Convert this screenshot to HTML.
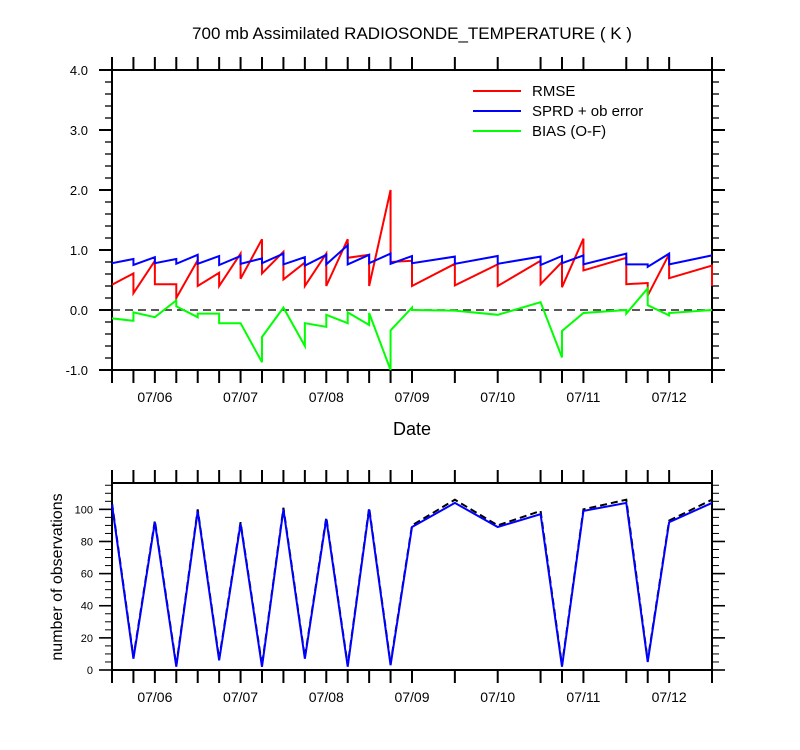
<!DOCTYPE html>
<html><head><meta charset="utf-8"><style>
body{margin:0;background:#fff;}
svg{display:block;font-family:"Liberation Sans",sans-serif;}
</style></head><body>
<svg id="chart" width="800" height="750" viewBox="0 0 800 750">
<text x="412" y="39" text-anchor="middle" font-size="17">700 mb Assimilated RADIOSONDE_TEMPERATURE ( K )</text>
<g id="topPanel"></g>
<g id="botPanel"></g>
<text x="412" y="435" text-anchor="middle" font-size="18">Date</text>
<text transform="translate(62,577) rotate(-90)" text-anchor="middle" font-size="16">number of observations</text>
<g>
<line x1="473" y1="91" x2="521" y2="91" stroke="#f00" stroke-width="2"/>
<text x="532" y="96" font-size="15">RMSE</text>
<line x1="473" y1="111" x2="521" y2="111" stroke="#00f" stroke-width="2"/>
<text x="532" y="116" font-size="15">SPRD + ob error</text>
<line x1="473" y1="131" x2="521" y2="131" stroke="#0f0" stroke-width="2"/>
<text x="532" y="136" font-size="15">BIAS (O-F)</text>
</g>
</svg>
<script>
const dateLabels=["07/06","07/07","07/08","07/09","07/10","07/11","07/12"];
const dateTickIdx=[2,6,10,14,18,22,26];
const obsTimes=[0,1,2,3,4,5,6,7,8,9,10,11,12,13,14,16,18,20,21,22,24,25,26,28];
const topYTicks=[4.0,3.0,2.0,1.0,0.0,-1.0];
const topYLabels=["4.0","3.0","2.0","1.0","0.0","-1.0"];
const rmseT=[0,1,1,2,2,3,3,4,4,5,5,6,6,7,7,8,8,9,9,10,10,11,11,12,12,13,13,14,14,16,16,18,18,20,20,21,21,22,22,24,24,25,25,26,26,28,28];
const rmseV=[0.42,0.61,0.28,0.82,0.43,0.43,0.2,0.83,0.4,0.62,0.4,0.94,0.52,1.18,0.61,0.97,0.51,0.79,0.4,0.94,0.4,1.18,0.87,0.92,0.4,2.0,0.8,0.82,0.4,0.77,0.41,0.76,0.4,0.82,0.43,0.8,0.38,1.19,0.66,0.87,0.43,0.45,0.24,0.93,0.53,0.74,0.4];
const sprdT=[0,1,1,2,2,3,3,4,4,5,5,6,6,7,7,8,8,9,9,10,10,11,11,12,12,13,13,14,14,16,16,18,18,20,20,21,21,22,22,24,24,25,25,26,26,28];
const sprdV=[0.78,0.85,0.75,0.88,0.78,0.85,0.77,0.92,0.77,0.9,0.75,0.9,0.77,0.86,0.78,0.94,0.76,0.88,0.74,0.92,0.76,1.08,0.76,0.92,0.78,0.94,0.77,0.9,0.78,0.89,0.77,0.9,0.77,0.89,0.75,0.9,0.78,0.91,0.76,0.94,0.76,0.76,0.72,0.94,0.76,0.91];
const biasT=[0,1,1,2,3,3,4,4,5,5,6,7,7,8,9,9,10,10,11,11,12,12,13,13,14,14,16,18,20,21,21,22,24,24,25,25,26,26,28];
const biasV=[-0.14,-0.18,-0.04,-0.12,0.16,0.06,-0.12,-0.06,-0.06,-0.22,-0.22,-0.87,-0.45,0.04,-0.6,-0.22,-0.28,-0.08,-0.22,-0.04,-0.25,-0.05,-1.0,-0.34,0.04,0.0,-0.01,-0.08,0.13,-0.79,-0.35,-0.05,0.0,-0.06,0.36,0.08,-0.09,-0.05,0.0];
const botYTicks=[0,20,40,60,80,100];
const obsUsed=[103,7,92,2,99,6,91,2,100,7,94,2,100,3,89,104,89,97,2,99,104,5,92,104];
const obsTotal=[104,8,93,3,100,7,92,3,101,8,95,3,101,4,90,106,90,99,3,100,106,6,93,106];

const NS="http://www.w3.org/2000/svg";
const X0=112,X1=712,N=28;
function xs(i){return X0+i*(X1-X0)/N;}
const T0=70,T1=370,TMIN=-1,TMAX=4;
function yt(v){return T1-(v-TMIN)/(TMAX-TMIN)*(T1-T0);}
const B0=483,B1=670,BMAX=116.4;
function yb(v){return B1-v/BMAX*(B1-B0);}
function mk(tag,attrs,parent){const e=document.createElementNS(NS,tag);for(const k in attrs)e.setAttribute(k,attrs[k]);parent.appendChild(e);return e;}
const topG=document.getElementById('topPanel'),botG=document.getElementById('botPanel');

function frame(g,y0,y1){
  const r=mk('rect',{x:X0,y:y0,width:X1-X0,height:y1-y0,fill:'none',stroke:'#000','stroke-width':2},g);
  
  
  obsTimes.forEach(i=>{
    const a=mk('line',{x1:xs(i),x2:xs(i),y1:y0,y2:y0-13,stroke:'#000','stroke-width':2},g);
    
    
    const b=mk('line',{x1:xs(i),x2:xs(i),y1:y1,y2:y1+13,stroke:'#000','stroke-width':2},g);
    
    
  });
  dateLabels.forEach((d,k)=>{
    const t=mk('text',{x:xs(dateTickIdx[k]),y:y1+32,'text-anchor':'middle','font-size':14},g);
    t.textContent=d;
    
    
  });
}
frame(topG,T0,T1);
frame(botG,B0,B1);

for(let v=TMIN;v<=TMAX+1e-9;v+=0.2){
  const major=Math.abs(v-Math.round(v))<1e-6;
  const L=major?13:7;
  [[X0,X0-L],[X1,X1+L]].forEach(p=>{
    const l=mk('line',{x1:p[0],x2:p[1],y1:yt(v),y2:yt(v),stroke:'#000','stroke-width':major?2:1.3},topG);
    
    
  });
}
topYTicks.forEach((v,k)=>{
  const t=mk('text',{x:88,y:yt(v)+5,'text-anchor':'end','font-size':13},topG);
  t.textContent=topYLabels[k];
  
  
});
const zl=mk('line',{x1:X0,x2:X1,y1:yt(0),y2:yt(0),stroke:'#222','stroke-width':1.6,'stroke-dasharray':'8,5'},topG);



function series(g,T,V,fy,color,name,dash){
  const pts=T.map((t,k)=>xs(t).toFixed(2)+','+fy(V[k]).toFixed(2)).join(' ');
  const a={points:pts,fill:'none',stroke:color,'stroke-width':2,'stroke-linejoin':'miter'};
  if(dash)a['stroke-dasharray']=dash;
  const p=mk('polyline',a,g);
  
  
}
series(topG,rmseT,rmseV,yt,'#f00','rmse-line');
series(topG,sprdT,sprdV,yt,'#00f','sprd-line');
series(topG,biasT,biasV,yt,'#0f0','bias-line');

for(let v=0;v<=BMAX;v+=5){
  const major=v%20===0;
  const L=major?13:7;
  [[X0,X0-L],[X1,X1+L]].forEach(p=>{
    const l=mk('line',{x1:p[0],x2:p[1],y1:yb(v),y2:yb(v),stroke:'#000','stroke-width':major?1.6:1},botG);
    
    
  });
}
botYTicks.forEach(v=>{
  const t=mk('text',{x:93,y:yb(v)+4,'text-anchor':'end','font-size':11},botG);
  t.textContent=String(v);
  
  
});
series(botG,obsTimes,obsTotal,yb,'#000','obs-total-line','7,4');
series(botG,obsTimes,obsUsed,yb,'#00f','obs-used-line');
</script>
</body></html>
